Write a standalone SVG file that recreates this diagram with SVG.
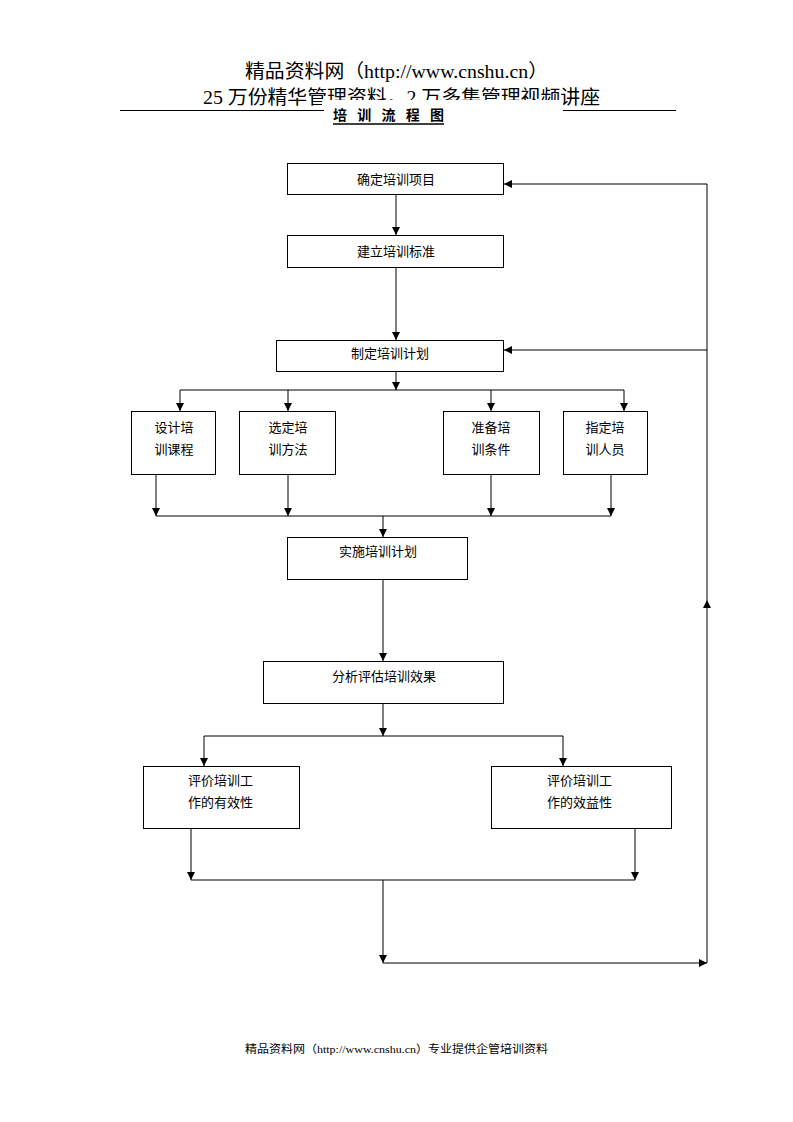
<svg xmlns="http://www.w3.org/2000/svg" width="793" height="1122" viewBox="0 0 793 1122">
<style>
text{font-family:"Liberation Serif","Noto Sans CJK SC",serif;fill:#000}
.box{fill:#fff;stroke:#000;stroke-width:1}
.lbl{font-size:13px;text-anchor:middle}
.lbl2{font-size:13px}
.c{fill:none;stroke:#000;stroke-width:1}
.a{marker-end:url(#arr)}
</style>
<defs>
<marker id="arr" markerUnits="userSpaceOnUse" markerWidth="9" markerHeight="8" refX="8" refY="4" orient="auto">
<path d="M0,0 L8,4 L0,8 z" fill="#000"/>
</marker>
</defs>
<rect width="793" height="1122" fill="#fff"/>
<g id="header">
<text x="245" y="78" font-size="19" textLength="303" lengthAdjust="spacingAndGlyphs">精品资料网（http://www.cnshu.cn）</text>
<text x="203" y="104" font-size="19" textLength="397" lengthAdjust="spacingAndGlyphs">25 万份精华管理资料，2 万多集管理视频讲座</text>
<rect x="322" y="100" width="241" height="10" fill="#fff"/>
<line x1="120" y1="110.5" x2="324" y2="110.5" stroke="#000" stroke-width="1"/>
<line x1="563" y1="110.5" x2="676" y2="110.5" stroke="#000" stroke-width="1"/>
<text x="333" y="120" font-size="14" font-weight="bold" textLength="111" lengthAdjust="spacing">培 训 流 程 图</text>
<line x1="333" y1="124" x2="444" y2="124" stroke="#000" stroke-width="1.5"/>
</g>
<g id="connectors">
<path class="c a" d="M396,194 V235"/>
<path class="c a" d="M396,267 V340"/>
<path class="c a" d="M396,371 V390"/>
<path class="c" d="M180,390 H624"/>
<path class="c a" d="M180,390 V411"/>
<path class="c a" d="M288,390 V411"/>
<path class="c a" d="M491,390 V411"/>
<path class="c a" d="M624,390 V411"/>
<path class="c a" d="M156,474 V516"/>
<path class="c a" d="M288,474 V516"/>
<path class="c a" d="M491,474 V516"/>
<path class="c a" d="M611,474 V516"/>
<path class="c" d="M156,516 H611"/>
<path class="c a" d="M383,516 V537"/>
<path class="c a" d="M383,579 V661"/>
<path class="c a" d="M383,703 V736"/>
<path class="c" d="M204,736 H563"/>
<path class="c a" d="M204,736 V766"/>
<path class="c a" d="M563,736 V766"/>
<path class="c a" d="M191,828 V880"/>
<path class="c a" d="M635,828 V880"/>
<path class="c" d="M191,880 H635"/>
<path class="c a" d="M383,880 V963"/>
<path class="c a" d="M383,963 H707"/>
<path class="c a" d="M707,963 V600"/>
<path class="c" d="M707,600 V184"/>
<path class="c a" d="M707,184 H504"/>
<path class="c a" d="M707,350 H504"/>
</g>
<g id="n1"><rect class="box" x="287.5" y="163.5" width="216" height="31"/><text class="lbl" x="396" y="184">确定培训项目</text></g>
<g id="n2"><rect class="box" x="287.5" y="235.5" width="216" height="32"/><text class="lbl" x="396" y="256">建立培训标准</text></g>
<g id="n3"><rect class="box" x="276.5" y="340.5" width="227" height="31"/><text class="lbl" x="390" y="358">制定培训计划</text></g>
<g id="n4"><rect class="box" x="131.5" y="411.5" width="84" height="63"/><text class="lbl" x="174" y="432">设计培</text><text class="lbl" x="174" y="454">训课程</text></g>
<g id="n5"><rect class="box" x="239.5" y="411.5" width="96" height="63"/><text class="lbl" x="288" y="432">选定培</text><text class="lbl" x="288" y="454">训方法</text></g>
<g id="n6"><rect class="box" x="443.5" y="411.5" width="96" height="63"/><text class="lbl" x="491" y="432">准备培</text><text class="lbl" x="491" y="454">训条件</text></g>
<g id="n7"><rect class="box" x="563.5" y="411.5" width="84" height="63"/><text class="lbl" x="605" y="432">指定培</text><text class="lbl" x="605" y="454">训人员</text></g>
<g id="n8"><rect class="box" x="287.5" y="537.5" width="180" height="42"/><text class="lbl" x="378" y="556">实施培训计划</text></g>
<g id="n9"><rect class="box" x="263.5" y="661.5" width="240" height="42"/><text class="lbl" x="384" y="681">分析评估培训效果</text></g>
<g id="n10"><rect class="box" x="143.5" y="766.5" width="156" height="62"/><text class="lbl2" x="188" y="785">评价培训工</text><text class="lbl2" x="188" y="807">作的有效性</text></g>
<g id="n11"><rect class="box" x="491.5" y="766.5" width="180" height="62"/><text class="lbl2" x="547" y="785">评价培训工</text><text class="lbl2" x="547" y="807">作的效益性</text></g>
<g id="footer">
<text x="245" y="1053" font-size="11" textLength="303" lengthAdjust="spacingAndGlyphs">精品资料网（http://www.cnshu.cn）专业提供企管培训资料</text>
</g>
</svg>
